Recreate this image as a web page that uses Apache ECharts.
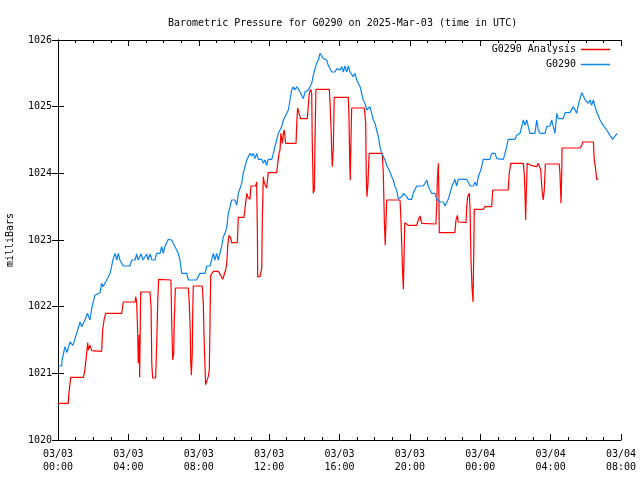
<!DOCTYPE html>
<html>
<head>
<meta charset="utf-8">
<script src="https://cdn.jsdelivr.net/npm/echarts@6/dist/echarts.min.js"></script>
<style>html,body{margin:0;padding:0;background:#fff}#c{width:640px;height:480px}</style>
</head>
<body>
<div id="c"></div>
<script>
// hours since 2025-03-03 00:00 UTC
const stationHours = [0,0.21,0.23,0.40,0.51,0.68,0.85,1.06,1.25,1.35,1.53,1.67,1.82,1.92,2.10,2.39,2.48,2.56,2.77,2.96,3.14,3.24,3.34,3.43,3.52,3.71,4.09,4.19,4.38,4.47,4.56,4.72,4.83,5.04,5.12,5.23,5.34,5.51,5.61,5.80,5.89,5.99,6.08,6.27,6.46,6.65,6.84,6.93,7.03,7.32,7.41,7.88,8.07,8.36,8.45,8.64,8.83,8.92,9.02,9.11,9.30,9.40,9.49,9.59,9.68,9.78,9.87,10.06,10.16,10.25,10.34,10.44,10.53,10.63,10.73,10.82,10.91,11.01,11.10,11.20,11.29,11.38,11.58,11.67,11.77,11.86,11.95,12.15,12.24,12.33,12.43,12.52,12.62,12.71,12.81,13.00,13.09,13.19,13.28,13.37,13.47,13.57,13.66,13.76,13.85,13.94,14.04,14.23,14.32,14.42,14.51,14.61,14.70,14.80,14.89,14.99,15.08,15.27,15.36,15.46,15.56,15.74,15.84,15.93,16.03,16.13,16.22,16.31,16.41,16.50,16.60,16.69,16.78,16.88,16.98,17.07,17.17,17.26,17.35,17.45,17.55,17.64,17.73,17.83,17.92,18.02,18.11,18.21,18.30,18.40,18.49,18.59,18.68,18.77,18.87,18.97,19.06,19.15,19.25,19.34,19.44,19.54,19.63,19.72,19.82,19.91,20.10,20.19,20.39,20.76,20.86,20.96,21.05,21.14,21.24,21.33,21.43,21.52,21.62,21.71,21.90,22.00,22.09,22.18,22.28,22.38,22.56,22.66,22.75,23.23,23.32,23.42,23.61,23.70,23.80,23.89,23.99,24.08,24.17,24.55,24.65,24.84,24.94,25.31,25.41,25.50,25.59,25.98,26.07,26.16,26.26,26.36,26.45,26.54,26.64,26.73,26.83,27.11,27.21,27.30,27.40,27.68,27.78,27.96,28.06,28.15,28.25,28.35,28.44,28.72,28.82,29.10,29.29,29.39,29.48,29.57,29.67,29.77,29.86,29.95,30.05,30.14,30.24,30.33,30.43,30.52,30.62,30.81,30.99,31.19,31.37,31.53,31.66,31.79];
const stationValues = [1021.11,1021.11,1021.2,1021.40,1021.31,1021.47,1021.42,1021.6,1021.77,1021.70,1021.8,1021.9,1021.8,1021.98,1022.17,1022.21,1022.35,1022.3,1022.4,1022.5,1022.72,1022.8,1022.7,1022.8,1022.7,1022.61,1022.61,1022.7,1022.7,1022.79,1022.7,1022.79,1022.7,1022.79,1022.7,1022.79,1022.7,1022.7,1022.8,1022.8,1022.9,1022.8,1022.91,1023.01,1023.0,1022.9,1022.8,1022.7,1022.5,1022.5,1022.4,1022.4,1022.5,1022.5,1022.61,1022.61,1022.8,1022.7,1022.8,1022.7,1022.9,1023.05,1023.1,1023.18,1023.4,1023.5,1023.6,1023.6,1023.52,1023.7,1023.7,1023.85,1024.0,1024.1,1024.2,1024.25,1024.3,1024.26,1024.3,1024.22,1024.3,1024.21,1024.21,1024.15,1024.2,1024.12,1024.21,1024.21,1024.3,1024.4,1024.5,1024.6,1024.65,1024.7,1024.8,1024.9,1024.95,1025.1,1025.25,1025.3,1025.25,1025.3,1025.3,1025.22,1025.2,1025.12,1025.22,1025.25,1025.27,1025.35,1025.47,1025.57,1025.65,1025.7,1025.8,1025.76,1025.72,1025.7,1025.62,1025.6,1025.52,1025.52,1025.57,1025.6,1025.55,1025.6,1025.52,1025.61,1025.52,1025.61,1025.52,1025.5,1025.45,1025.5,1025.4,1025.35,1025.3,1025.2,1025.1,1025.05,1024.95,1024.92,1025.0,1024.9,1024.8,1024.75,1024.65,1024.55,1024.4,1024.3,1024.27,1024.2,1024.12,1024.1,1024.02,1023.95,1023.9,1023.8,1023.75,1023.62,1023.61,1023.65,1023.7,1023.7,1023.65,1023.61,1023.61,1023.7,1023.81,1023.81,1023.85,1023.9,1023.8,1023.77,1023.7,1023.67,1023.7,1023.61,1023.62,1023.57,1023.57,1023.51,1023.51,1023.61,1023.7,1023.8,1023.91,1023.81,1023.91,1023.91,1023.87,1023.81,1023.81,1023.87,1023.81,1023.95,1024.02,1024.1,1024.21,1024.21,1024.3,1024.3,1024.22,1024.21,1024.3,1024.4,1024.51,1024.51,1024.57,1024.54,1024.6,1024.7,1024.8,1024.72,1024.8,1024.7,1024.6,1024.6,1024.8,1024.65,1024.6,1024.6,1024.7,1024.71,1024.8,1024.8,1024.6,1024.9,1024.82,1024.82,1024.91,1024.91,1025.0,1024.95,1024.9,1025.02,1025.12,1025.21,1025.21,1025.11,1025.11,1025.05,1025.1,1025.02,1025.1,1025.0,1024.92,1024.8,1024.72,1024.65,1024.57,1024.51,1024.56,1024.6];

const analysisHours = [0,0.59,0.60,0.68,0.72,1.44,1.53,1.63,1.69,1.72,1.82,1.92,2.01,2.48,2.54,2.63,2.71,3.62,3.71,4.38,4.42,4.47,4.53,4.56,4.62,4.64,4.70,5.23,5.29,5.33,5.38,5.55,5.61,5.67,5.72,6.42,6.46,6.52,6.58,6.61,6.67,7.41,7.46,7.52,7.54,7.58,7.63,7.66,7.69,8.20,8.26,8.30,8.36,8.39,8.49,8.54,8.60,8.64,8.68,8.83,9.11,9.25,9.36,9.45,9.53,9.59,9.65,9.72,9.82,9.87,10.19,10.25,10.57,10.63,10.67,10.73,10.78,10.86,10.91,10.97,11.24,11.29,11.33,11.35,11.48,11.58,11.61,11.67,11.73,11.81,11.86,11.95,12.43,12.49,12.56,12.62,12.67,12.75,12.81,12.86,12.94,13.53,13.57,13.62,13.70,13.79,14.17,14.23,14.28,14.36,14.42,14.45,14.51,14.57,14.61,14.66,15.42,15.46,15.52,15.56,15.59,15.65,15.70,16.50,16.54,16.58,16.61,16.65,16.69,17.41,17.49,17.52,17.56,17.62,17.66,17.69,18.43,18.49,18.55,18.60,18.64,18.68,19.44,19.48,19.54,19.59,19.63,19.67,19.71,19.82,19.91,20.39,20.48,20.58,20.67,20.76,21.48,21.52,21.56,21.62,21.66,21.67,22.56,22.62,22.70,22.75,22.85,23.19,23.23,23.29,23.34,23.38,23.42,23.47,23.53,23.59,23.63,23.66,24.17,24.27,24.65,24.71,25.59,25.65,25.73,26.45,26.50,26.54,26.58,26.62,26.67,26.87,26.92,27.21,27.30,27.40,27.44,27.51,27.58,27.64,27.70,28.49,28.53,28.57,28.59,28.63,28.65,29.67,29.77,29.82,30.43,30.48,30.54,30.62,30.71];
const analysisValues = [1020.55,1020.55,1020.65,1020.84,1020.94,1020.94,1021.05,1021.3,1021.46,1021.35,1021.42,1021.34,1021.33,1021.33,1021.65,1021.82,1021.9,1021.9,1022.07,1022.07,1022.15,1022.07,1021.6,1021.15,1021.58,1020.94,1022.22,1022.22,1022.0,1021.15,1020.93,1020.93,1021.45,1022.09,1022.41,1022.4,1021.8,1021.2,1021.3,1021.8,1022.28,1022.28,1022.05,1021.62,1021.2,1020.97,1021.3,1021.95,1022.31,1022.31,1022.05,1021.55,1021.08,1020.83,1020.83,1020.95,1021.05,1021.77,1022.47,1022.53,1022.53,1022.47,1022.41,1022.41,1022.55,1022.65,1022.92,1023.07,1023.03,1022.96,1022.96,1023.34,1023.34,1023.31,1023.56,1023.7,1023.65,1023.67,1023.61,1023.81,1023.81,1023.87,1023.18,1022.45,1022.45,1022.57,1023.27,1023.95,1023.85,1023.86,1023.78,1024.01,1024.01,1024.15,1024.3,1024.35,1024.6,1024.45,1024.6,1024.65,1024.45,1024.45,1024.75,1024.98,1024.9,1024.82,1024.82,1025.02,1025.2,1025.26,1025.2,1024.5,1023.7,1023.75,1024.52,1025.26,1025.26,1025.07,1024.68,1024.3,1024.1,1024.38,1025.14,1025.14,1024.82,1024.2,1023.9,1024.45,1024.98,1024.98,1024.75,1024.0,1023.65,1023.85,1024.15,1024.3,1024.3,1024.0,1023.27,1022.92,1023.25,1023.6,1023.6,1023.38,1022.92,1022.5,1022.26,1022.75,1023.26,1023.26,1023.22,1023.22,1023.3,1023.36,1023.25,1023.24,1023.24,1023.47,1023.9,1024.15,1023.5,1023.11,1023.11,1023.3,1023.37,1023.27,1023.26,1023.26,1023.5,1023.65,1023.67,1023.7,1023.47,1022.75,1022.3,1022.07,1022.8,1023.46,1023.46,1023.5,1023.5,1023.75,1023.75,1024.0,1024.15,1024.15,1024.0,1023.72,1023.3,1023.72,1024.15,1024.12,1024.1,1024.1,1024.15,1024.15,1024.05,1023.75,1023.6,1023.75,1024.14,1024.14,1024.0,1023.7,1023.55,1023.98,1024.38,1024.38,1024.42,1024.47,1024.47,1024.2,1024.1,1023.91,1023.91];

const xTickLabels = ['03/03\n00:00','03/03\n04:00','03/03\n08:00','03/03\n12:00','03/03\n16:00','03/03\n20:00','03/04\n00:00','03/04\n04:00','03/04\n08:00'];
const yTickLabels = ['1020','1021','1022','1023','1024','1025','1026'];
const seriesNames = ['G0290 Analysis','G0290'];
const titleText = 'Barometric Pressure for G0290 on 2025-Mar-03 (time in UTC)';
const yName = 'milliBars';

const zip = (a, b) => a.map((v, i) => [v, b[i]]);
const FONT = 'DejaVu Sans Mono';

const chart = echarts.init(document.getElementById('c'), null, {renderer: 'canvas'});
const axisCommon = {
  axisLine: {show: true, lineStyle: {color: '#000', width: 1}},
  splitLine: {show: false},
};
chart.setOption({
  animation: false,
  backgroundColor: '#fff',
  title: {
    text: titleText, left: 163, top: 13,
    textStyle: {fontFamily: FONT, fontSize: 10, fontWeight: 'normal', color: '#000'}
  },
  legend: {
    orient: 'vertical', right: 25, top: 39, align: 'right',
    icon: 'rect', itemWidth: 29, itemHeight: 1.5, itemGap: 4,
    textStyle: {fontFamily: FONT, fontSize: 10, color: '#000', lineHeight: 11},
    data: seriesNames
  },
  grid: {left: 58, right: 19, top: 40, bottom: 40, containLabel: false, outerBoundsMode: 'none'},
  xAxis: [
    Object.assign({}, axisCommon, {
      type: 'value', min: 0, max: 32, interval: 4, position: 'bottom',
      axisTick: {show: true, inside: true, length: 6, lineStyle: {color: '#000'}},
      minorTick: {show: true, splitNumber: 4, length: 3, lineStyle: {color: '#000'}},
      axisLabel: {
        fontFamily: FONT, fontSize: 10, color: '#000', margin: 8, lineHeight: 13,
        formatter: v => xTickLabels[Math.round(v / 4)]
      }
    }),
    Object.assign({}, axisCommon, {
      type: 'value', min: 0, max: 32, interval: 4, position: 'top',
      axisTick: {show: true, inside: true, length: 6, lineStyle: {color: '#000'}},
      minorTick: {show: true, splitNumber: 4, length: 3, lineStyle: {color: '#000'}},
      axisLabel: {show: false}
    })
  ],
  yAxis: [
    Object.assign({}, axisCommon, {
      type: 'value', min: 1020, max: 1026, interval: 1, position: 'left',
      name: yName, nameLocation: 'middle', nameGap: 43, nameRotate: 90,
      nameTextStyle: {fontFamily: FONT, fontSize: 10, color: '#000'},
      axisTick: {show: true, inside: true, length: 6, lineStyle: {color: '#000'}},
      axisLabel: {
        fontFamily: FONT, fontSize: 10, color: '#000', margin: 6,
        formatter: v => yTickLabels[Math.round(v - 1020)]
      }
    }),
    Object.assign({}, axisCommon, {
      type: 'value', min: 1020, max: 1026, interval: 1, position: 'right',
      axisTick: {show: true, inside: true, length: 6, lineStyle: {color: '#000'}},
      axisLabel: {show: false}
    })
  ],
  series: [
    {
      name: seriesNames[0], type: 'line', xAxisIndex: 0, yAxisIndex: 0,
      data: zip(analysisHours, analysisValues), showSymbol: false, symbol: 'none',
      lineStyle: {color: '#ff0000', width: 1.2}, itemStyle: {color: '#ff0000'}
    },
    {
      name: seriesNames[1], type: 'line', xAxisIndex: 0, yAxisIndex: 0,
      data: zip(stationHours, stationValues), showSymbol: false, symbol: 'none',
      lineStyle: {color: '#0a84f0', width: 1.2}, itemStyle: {color: '#0a84f0'}
    }
  ]
});
</script>
</body>
</html>
